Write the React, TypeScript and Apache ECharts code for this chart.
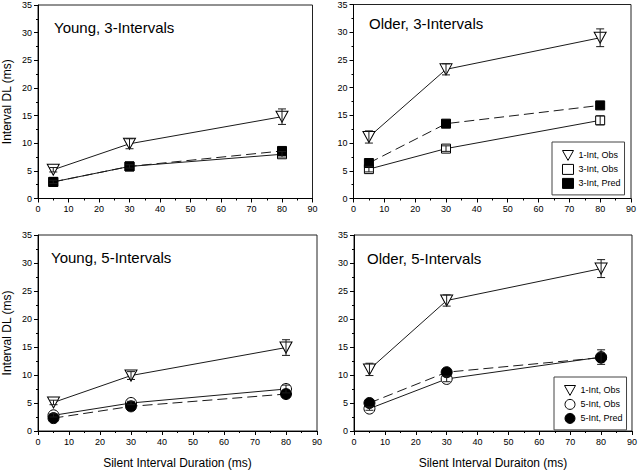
import React, { useEffect, useRef } from 'react';
import * as echarts from 'echarts';

const durations = [5, 30, 80];
const xTicks = { min: 0, max: 90, interval: 10 };
const yTicks = { min: 0, max: 35, interval: 5 };

const panelTitles = ['Young, 3-Intervals', 'Older, 3-Intervals', 'Young, 5-Intervals', 'Older, 5-Intervals'];
const yAxisTitle = 'Interval DL (ms)';
const xAxisTitles = ['Silent Interval Duration (ms)', 'Silent Interval Duraiton (ms)'];
const names3 = ['1-Int, Obs', '3-Int, Obs', '3-Int, Pred'];
const names5 = ['1-Int, Obs', '5-Int, Obs', '5-Int, Pred'];

// Young, 3-Intervals
const y3OneIntObs = [5.2, 9.9, 14.8];
const y3OneIntErr = [0.4, 0.9, 1.4];
const y3ThreeIntObs = [3.0, 5.8, 8.0];
const y3ThreeIntErr = [0.3, 0.3, 0.5];
const y3ThreeIntPred = [3.0, 5.8, 8.6];
// Older, 3-Intervals
const o3OneIntObs = [11.1, 23.3, 29.0];
const o3OneIntErr = [1.1, 1.0, 1.6];
const o3ThreeIntObs = [5.3, 9.0, 14.1];
const o3ThreeIntErr = [0.5, 0.5, 0.8];
const o3ThreeIntPred = [6.4, 13.5, 16.8];
// Young, 5-Intervals
const y5OneIntObs = [5.1, 9.9, 14.9];
const y5OneIntErr = [0.4, 0.7, 1.4];
const y5FiveIntObs = [2.8, 5.0, 7.5];
const y5FiveIntErr = [0.3, 0.3, 0.7];
const y5FiveIntPred = [2.3, 4.4, 6.6];
// Older, 5-Intervals
const o5OneIntObs = [11.0, 23.3, 29.0];
const o5OneIntErr = [1.1, 1.0, 1.6];
const o5FiveIntObs = [4.0, 9.3, 13.2];
const o5FiveIntErr = [0.3, 0.5, 1.3];
const o5FiveIntPred = [5.0, 10.5, 13.1];

const TRI = 'path://M0,0L10,0L5,9Z';
const FONT = 'Liberation Sans, Arial, sans-serif';
const INK = '#1a1a1a';

function errRender(params: any, api: any) {
  const x = api.value(0);
  const p1 = api.coord([x, api.value(2)]);
  const p2 = api.coord([x, api.value(1)]);
  const w = 4;
  const style = { stroke: INK, lineWidth: 1, fill: null };
  return {
    type: 'group',
    children: [
      { type: 'line', shape: { x1: p1[0], y1: p1[1], x2: p2[0], y2: p2[1] }, style },
      { type: 'line', shape: { x1: p1[0] - w, y1: p1[1], x2: p1[0] + w, y2: p1[1] }, style },
      { type: 'line', shape: { x1: p2[0] - w, y1: p2[1], x2: p2[0] + w, y2: p2[1] }, style },
    ],
  };
}

const pts = (v: number[]) => durations.map((x, i) => [x, v[i]]);
const errs = (v: number[], e: number[]) => durations.map((x, i) => [x, v[i] - e[i], v[i] + e[i]]);

export default function App() {
  const ref = useRef<HTMLDivElement>(null);
  useEffect(() => {
    const chart = echarts.init(ref.current!, null, { renderer: 'svg' });
    const grids = [
      { left: 37.5, top: 5, width: 275, height: 193.5 },
      { left: 353.5, top: 4, width: 277.5, height: 194.5 },
      { left: 36, top: 235, width: 281, height: 196 },
      { left: 354, top: 235, width: 280, height: 196 },
    ].map((g) => ({ ...g, show: true, borderColor: '#222', borderWidth: 1, containLabel: false }));

    const axisCommon = {
      type: 'value',
      axisLine: { show: true, onZero: false, lineStyle: { color: '#000', width: 1 } },
      axisTick: { show: true, length: 4, lineStyle: { color: '#000' } },
      minorTick: { show: true, splitNumber: 2, length: 2, lineStyle: { color: '#000' } },
      splitLine: { show: false },
      axisLabel: { fontSize: 9, color: '#000', fontFamily: FONT, margin: 6 },
      nameTextStyle: { fontSize: 12, color: '#000', fontFamily: FONT },
    };
    const xAxis = [0, 1, 2, 3].map((i) => ({
      ...axisCommon,
      gridIndex: i,
      ...xTicks,
      name: i >= 2 ? xAxisTitles[i - 2] : '',
      nameLocation: 'middle',
      nameGap: 26,
    }));
    const yAxis = [0, 1, 2, 3].map((i) => ({
      ...axisCommon,
      gridIndex: i,
      ...yTicks,
      name: i % 2 === 0 ? yAxisTitle : '',
      nameLocation: 'middle',
      nameRotate: 90,
      nameGap: 25,
    }));

    const panels = [
      { one: y3OneIntObs, oneE: y3OneIntErr, obs: y3ThreeIntObs, obsE: y3ThreeIntErr, pred: y3ThreeIntPred, names: names3, sym: 'rect' },
      { one: o3OneIntObs, oneE: o3OneIntErr, obs: o3ThreeIntObs, obsE: o3ThreeIntErr, pred: o3ThreeIntPred, names: names3, sym: 'rect' },
      { one: y5OneIntObs, oneE: y5OneIntErr, obs: y5FiveIntObs, obsE: y5FiveIntErr, pred: y5FiveIntPred, names: names5, sym: 'circle' },
      { one: o5OneIntObs, oneE: o5OneIntErr, obs: o5FiveIntObs, obsE: o5FiveIntErr, pred: o5FiveIntPred, names: names5, sym: 'circle' },
    ];

    const series: any[] = [];
    panels.forEach((p, i) => {
      const axes = { xAxisIndex: i, yAxisIndex: i };
      const ms = p.sym === 'rect' ? 9 : 11;
      series.push({
        type: 'line', name: p.names[0], ...axes, data: pts(p.one), symbol: TRI, symbolSize: [12, 11],
        lineStyle: { color: INK, width: 1 }, itemStyle: { color: '#fff', borderColor: '#000', borderWidth: 1 }, z: 2,
      });
      series.push({
        type: 'line', name: p.names[1], ...axes, data: pts(p.obs), symbol: p.sym, symbolSize: ms,
        lineStyle: { color: INK, width: 1 }, itemStyle: { color: '#fff', borderColor: '#000', borderWidth: 1 }, z: 2,
      });
      series.push({
        type: 'line', name: p.names[2], ...axes, data: pts(p.pred), symbol: p.sym, symbolSize: ms,
        lineStyle: { color: INK, width: 1, type: [10, 5] }, itemStyle: { color: '#000', borderColor: '#000', borderWidth: 1 }, z: 3,
      });
      series.push({ type: 'custom', ...axes, renderItem: errRender, data: errs(p.one, p.oneE), z: 4, silent: true });
      series.push({ type: 'custom', ...axes, renderItem: errRender, data: errs(p.obs, p.obsE), z: 4, silent: true });
    });

    const legendItem = (name: string, icon: string, fill: string) => ({
      name,
      icon,
      itemStyle: { color: fill, borderColor: '#000', borderWidth: 1 },
    });
    const legendCommon = {
      orient: 'vertical',
      borderColor: '#444',
      borderWidth: 1,
      backgroundColor: '#fff',
      itemWidth: 11,
      itemHeight: 10,
      itemGap: 3,
      selectedMode: false,
      textStyle: { fontSize: 9, color: '#000', fontFamily: FONT },
    };

    chart.setOption({
      animation: false,
      backgroundColor: '#fff',
      title: [
        { text: panelTitles[0], left: 54, top: 20 },
        { text: panelTitles[1], left: 369, top: 16 },
        { text: panelTitles[2], left: 51, top: 250 },
        { text: panelTitles[3], left: 367, top: 251 },
      ].map((t) => ({ ...t, padding: 0, textStyle: { fontSize: 15, fontWeight: 'normal', color: '#000', fontFamily: FONT } })),
      grid: grids,
      xAxis,
      yAxis,
      legend: [
        {
          ...legendCommon,
          left: 552, top: 142, padding: [8, 4, 6, 10],
          data: [legendItem(names3[0], TRI, '#fff'), legendItem(names3[1], 'rect', '#fff'), legendItem(names3[2], 'rect', '#000')],
        },
        {
          ...legendCommon,
          left: 554, top: 377, padding: [8, 4, 6, 10],
          data: [legendItem(names5[0], TRI, '#fff'), legendItem(names5[1], 'circle', '#fff'), legendItem(names5[2], 'circle', '#000')],
        },
      ],
      series,
    });
    return () => chart.dispose();
  }, []);
  return <div ref={ref} style={{ position: 'fixed', left: 0, top: 0, width: 640, height: 471 }} />;
}
